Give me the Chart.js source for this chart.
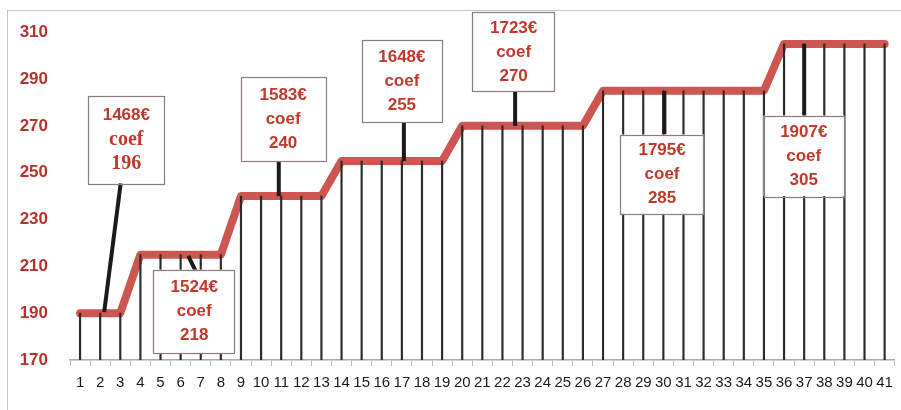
<!DOCTYPE html>
<html><head><meta charset="utf-8">
<script src="https://cdn.jsdelivr.net/npm/chart.js@4/dist/chart.umd.min.js"></script>
<style>
html,body{margin:0;padding:0;background:#fff;}
#wrap{position:relative;width:901px;height:410px;overflow:hidden;background:#fff;}
#frame{position:absolute;left:7px;top:10px;width:1000px;height:1000px;border:1.5px solid #c4c4c4;box-sizing:border-box;}
canvas{position:absolute;left:0;top:0;}
</style></head><body>
<div id="wrap"><div id="frame"></div><canvas id="c" width="901" height="410"></canvas></div>
<script>
// ---- data ----
const categories = ['1','2','3','4','5','6','7','8','9','10','11','12','13','14','15','16','17','18','19','20',
  '21','22','23','24','25','26','27','28','29','30','31','32','33','34','35','36','37','38','39','40','41'];
const coefValues = [190,190,190,215,215,215,215,215,240,240,240,240,240,255,255,255,255,255,255,
  270,270,270,270,270,270,270,285,285,285,285,285,285,285,285,285,305,305,305,305,305,305];
const yMin = 170, yMax = 310, yStep = 20;
const calloutSalaries = ['1468€','1524€','1583€','1648€','1723€','1795€','1907€'];
const calloutWord = 'coef';
const calloutCoefs = ['196','218','240','255','270','285','305'];

// ---- callout placement (category number, value) ----
const calloutLayout = [
  {box:[1.40,282.9,5.20,245.5], line:[[3.02,245.5],[2.20,190.5]], serif:true},
  {box:[4.65,208.6,8.70,173.0], line:[[6.38,214.5],[6.75,208.0]]},
  {box:[8.99,290.9,13.20,254.9], line:[[10.88,254.9],[10.88,240]]},
  {box:[15.02,306.6,18.98,271.4], line:[[17.10,271.4],[17.10,255]]},
  {box:[20.51,318.5,24.60,284.6], line:[[22.63,284.6],[22.63,270]]},
  {box:[27.86,266.3,32.01,232.4], line:[[30.05,285],[30.05,266.3]]},
  {box:[34.98,274.4,38.98,240.0], line:[[37.0,305],[37.0,274.4]]}
];

const sans = '"Liberation Sans", Arial, sans-serif';
const serif = '"Liberation Serif", "Times New Roman", serif';

const calloutPlugin = {
  id:'callouts',
  afterDatasetsDraw(chart){
    const {ctx, scales:{x,y}} = chart;
    const px = v => x.getPixelForValue(v-1);
    calloutLayout.forEach((c,i)=>{
      const x1=px(c.box[0]), x2=px(c.box[2]);
      const y1=y.getPixelForValue(c.box[1]), y2=y.getPixelForValue(c.box[3]);
      ctx.save();
      ctx.strokeStyle='#1b1b1b'; ctx.lineWidth=4; ctx.lineCap='butt';
      ctx.beginPath();
      ctx.moveTo(px(c.line[0][0]), y.getPixelForValue(c.line[0][1]));
      ctx.lineTo(px(c.line[1][0]), y.getPixelForValue(c.line[1][1]));
      ctx.stroke();
      ctx.fillStyle='#fff';
      ctx.fillRect(x1,y1,x2-x1,y2-y1);
      ctx.strokeStyle='#8c7b7b'; ctx.lineWidth=1.2;
      ctx.strokeRect(Math.round(x1)+0.5, Math.round(y1)+0.5, Math.round(x2-x1), Math.round(y2-y1));
      const lines=[calloutSalaries[i], calloutWord, calloutCoefs[i]];
      const cx=(x1+x2)/2, cy=(y1+y2)/2, gap=24;
      ctx.fillStyle='#c0392b'; ctx.textAlign='center'; ctx.textBaseline='middle';
      lines.forEach((t,k)=>{
        if (c.serif && k>0) ctx.font = 'bold 20px ' + serif;
        else ctx.font = 'bold 17px ' + sans;
        ctx.fillText(t, cx, cy+(k-1)*gap);
      });
      ctx.restore();
    });
  }
};

new Chart(document.getElementById('c'), {
  type:'line',
  data:{
    labels: categories,
    datasets:[
      {type:'line', data: coefValues, borderColor:'#cd5650', borderWidth:8, pointRadius:0, tension:0,
       borderJoinStyle:'round', borderCapStyle:'round', order:2},
      {type:'bar', data: coefValues, backgroundColor:'#2b2b2b', barThickness:1.5, order:1}
    ]
  },
  options:{
    responsive:false, animation:false, devicePixelRatio:1,
    layout:{padding:{top:30,right:3,bottom:0,left:0}},
    plugins:{legend:{display:false}, tooltip:{enabled:false}},
    scales:{
      x:{type:'category', offset:true,
         grid:{offset:true, drawOnChartArea:false, drawTicks:true, tickLength:6, color:'#bdbdbd'},
         border:{display:true, color:'#aaaaaa', width:1.5},
         ticks:{autoSkip:false, maxRotation:0, minRotation:0, padding:8, color:'#1a1a1a',
                font:{family:sans, size:15}},
         afterFit(s){ s.height = 50; }},
      y:{min:yMin, max:yMax,
         ticks:{stepSize:yStep, padding:22, color:'#b8322c', font:{family:sans, size:17, weight:'bold'}},
         grid:{display:false, drawTicks:false}, border:{display:false},
         afterFit(s){ s.width = 70; }}
    }
  },
  plugins:[calloutPlugin]
});
</script>
</body></html>
